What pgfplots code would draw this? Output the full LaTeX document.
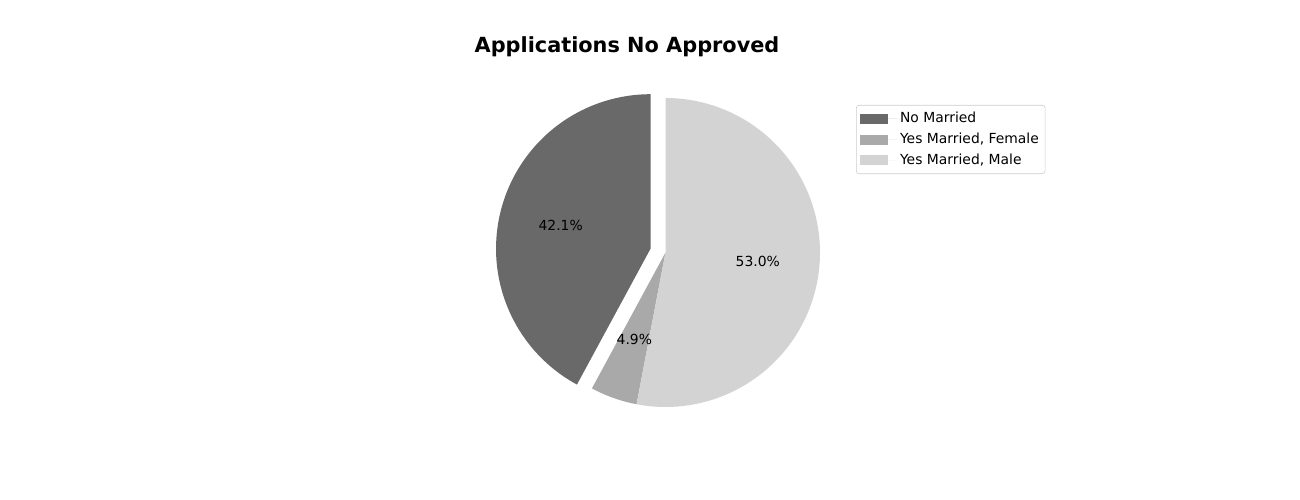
\documentclass[border=0pt]{standalone}
\usepackage{pgfplots}
\pgfplotsset{compat=1.18}
\usepackage{fontspec}
\setmainfont{DejaVu Sans}
\definecolor{c1}{HTML}{696969}
\definecolor{c2}{HTML}{A9A9A9}
\definecolor{c3}{HTML}{D3D3D3}
\definecolor{legframe}{HTML}{CCCCCC}
\begin{document}
\begin{tikzpicture}
% data (percent)
\pgfmathsetmacro{\va}{42.1}
\pgfmathsetmacro{\vb}{4.9}
\pgfmathsetmacro{\vc}{53.0}
\pgfmathsetmacro{\tot}{\va+\vb+\vc}
\pgfmathsetmacro{\aA}{90}
\pgfmathsetmacro{\aB}{90+360*\va/\tot}
\pgfmathsetmacro{\aC}{\aB+360*\vb/\tot}
\pgfmathsetmacro{\aD}{450}
\pgfmathsetmacro{\mA}{(\aA+\aB)/2}
\pgfmathsetmacro{\mB}{(\aB+\aC)/2}
\pgfmathsetmacro{\mC}{(\aC+\aD)/2}
\pgfmathsetmacro{\R}{154.5}
\pgfmathsetmacro{\cx}{15.5}
\pgfmathsetmacro{\cy}{-2.5}
\pgfmathsetmacro{\ex}{\cx+0.1*\R*cos(\mA)}
\pgfmathsetmacro{\ey}{\cy+0.1*\R*sin(\mA)}
\begin{axis}[
  width=936pt, height=360pt, scale only axis,
  xmin=-650, xmax=650, ymin=-250, ymax=250,
  hide axis, clip=false,
  legend style={at={(0.6585,0.79)}, anchor=north west, draw=legframe, rounded corners=2pt,
    font=\fontsize{10}{12}\selectfont, row sep=2pt, inner xsep=2.5pt, inner ysep=3pt},
  legend cell align=left,
  legend image code/.code={\fill[#1, sharp corners] (0pt,-3.6pt) rectangle (20.2pt,3.6pt);
     \path (0pt,0pt) -- (27pt,0pt);},
]
\path (axis cs:-650,-250) rectangle (axis cs:650,250);
\addplot[fill=c1, draw=none, domain=\aA:\aB, samples=120, variable=\t]
  ({\ex+\R*cos(\t)},{\ey+\R*sin(\t)}) -- (axis cs:\ex,\ey) -- cycle;
\addlegendentry{No Married}
\addplot[fill=c2, draw=none, domain=\aB:\aC, samples=20, variable=\t]
  ({\cx+\R*cos(\t)},{\cy+\R*sin(\t)}) -- (axis cs:\cx,\cy) -- cycle;
\addlegendentry{Yes Married, Female}
\addplot[fill=c3, draw=none, domain=\aC:\aD, samples=150, variable=\t]
  ({\cx+\R*cos(\t)},{\cy+\R*sin(\t)}) -- (axis cs:\cx,\cy) -- cycle;
\addlegendentry{Yes Married, Male}
\node[font=\fontsize{10}{12}\selectfont] at (axis cs:{\ex+0.6*\R*cos(\mA)},{\ey+0.6*\R*sin(\mA)}) {42.1\%};
\node[font=\fontsize{10}{12}\selectfont] at (axis cs:{\cx+0.6*\R*cos(\mB)},{\cy+0.6*\R*sin(\mB)}) {4.9\%};
\node[font=\fontsize{10}{12}\selectfont] at (axis cs:{\cx+0.6*\R*cos(\mC)},{\cy+0.6*\R*sin(\mC)}) {53.0\%};
\node[font=\fontsize{15}{18}\selectfont\bfseries] at (axis cs:-23,203) {Applications No Approved};
\end{axis}
\end{tikzpicture}
\end{document}
